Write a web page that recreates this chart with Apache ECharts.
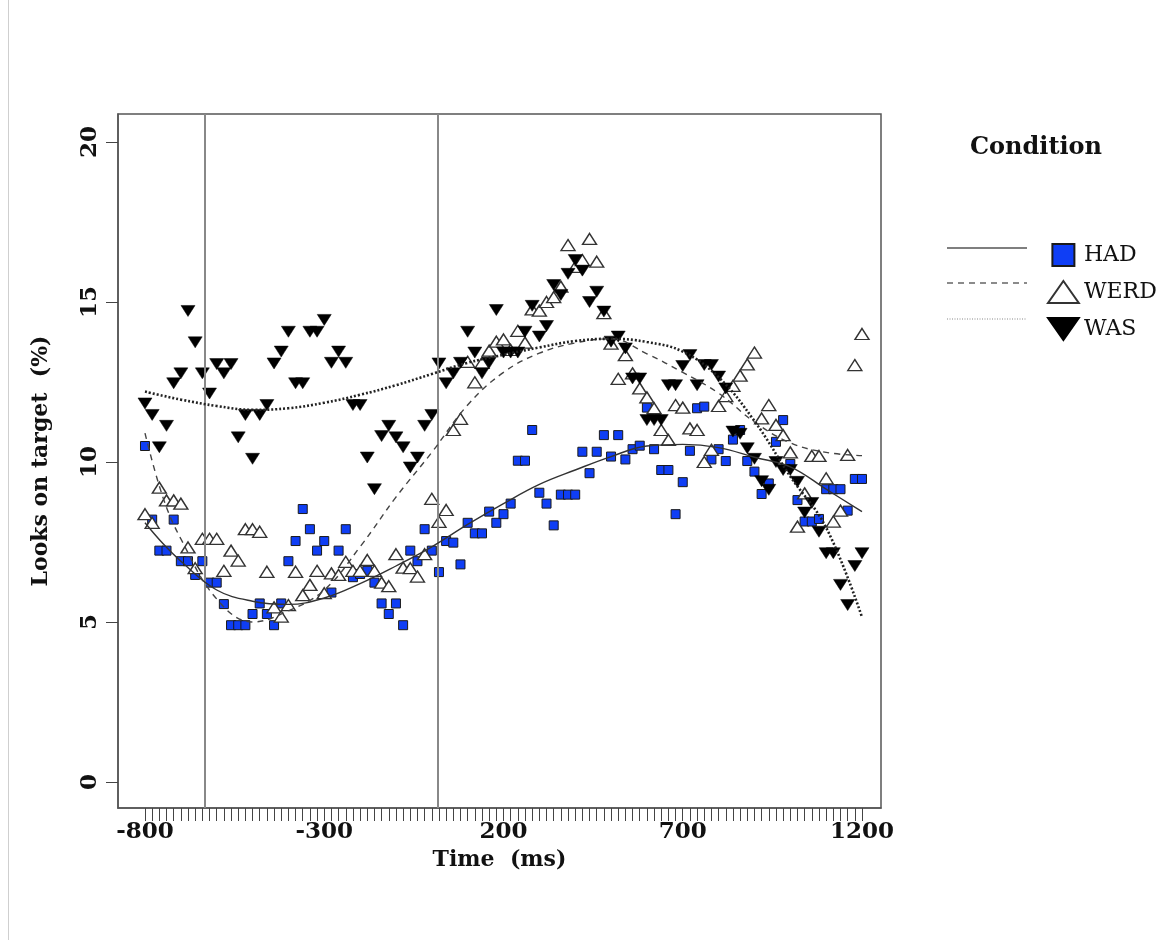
<!DOCTYPE html>
<html><head><meta charset="utf-8">
<script src="https://cdn.jsdelivr.net/npm/echarts@6/dist/echarts.min.js"></script>
<style>html,body{margin:0;padding:0;background:#fff}#chart{width:1176px;height:940px}</style>
</head><body><div id="chart"></div>
<script>
// time bins (ms), every 20 ms from -800 to 1200
const timeStart = -800;
const timeStep = 20;
const binCount = 101;

const hadValues = [10.5, 8.2, 7.23, 7.23, 8.2, 6.9, 6.9, 6.47, 6.9, 6.23,
 6.23, 5.56, 4.9, 4.9, 4.9, 5.25, 5.58, 5.25, 4.9, 5.58,
 6.9, 7.53, 8.53, 7.9, 7.23, 7.53, 5.92, 7.23, 7.9, 6.4,
 6.5, 6.6, 6.23, 5.58, 5.25, 5.58, 4.9, 7.23, 6.9, 7.9,
 7.23, 6.56, 7.53, 7.48, 6.8, 8.1, 7.77, 7.77, 8.45, 8.1,
 8.37, 8.7, 10.04, 10.04, 11.0, 9.04, 8.7, 8.02, 8.98, 8.98,
 8.98, 10.32, 9.65, 10.32, 10.84, 10.17, 10.84, 10.08, 10.4, 10.51,
 11.7, 10.4, 9.75, 9.75, 8.37, 9.37, 10.35, 11.68, 11.73, 10.08,
 10.4, 10.03, 10.7, 11.0, 10.03, 9.7, 9.0, 9.33, 10.63, 11.31,
 9.94, 8.81, 8.14, 8.14, 8.22, 9.15, 9.15, 9.15, 8.48, 9.47,
 9.47];

const werdValues = [8.37, 8.1, 9.2, 8.8, 8.8, 8.7, 7.33, 6.68, 7.6, 7.6,
 7.6, 6.6, 7.23, 6.92, 7.9, 7.9, 7.82, 6.57, 5.46, 5.17,
 5.53, 6.57, 5.84, 6.16, 6.6, 5.9, 6.52, 6.47, 6.88, 6.6,
 6.6, 6.94, 6.6, 6.23, 6.12, 7.12, 6.7, 6.68, 6.42, 7.12,
 8.85, 8.13, 8.5, 11.0, 11.35, 13.13, 12.49, 13.1, 13.48, 13.76,
 13.83, 13.5, 14.1, 13.73, 14.77, 14.73, 15.0, 15.15, 15.48, 16.78,
 16.1, 16.31, 16.97, 16.26, 14.65, 13.7, 12.6, 13.34, 12.77, 12.3,
 12.02, 11.68, 11.0, 10.69, 11.78, 11.7, 11.05, 11.0, 10.0, 10.38,
 11.75, 12.06, 12.38, 12.7, 13.05, 13.42, 11.36, 11.78, 11.16, 10.84,
 10.3, 7.98, 9.02, 10.19, 10.19, 9.49, 8.14, 8.48, 10.22, 13.03,
 14.0];

const wasValues = [11.83, 11.47, 10.46, 11.13, 12.46, 12.77, 14.72, 13.74, 12.77, 12.14,
 13.06, 12.77, 13.06, 10.77, 11.47, 10.1, 11.47, 11.78, 13.08, 13.45,
 14.07, 12.46, 12.46, 14.07, 14.07, 14.44, 13.1, 13.45, 13.1, 11.78,
 11.78, 10.14, 9.15, 10.81, 11.13, 10.77, 10.46, 9.83, 10.14, 11.13,
 11.47, 13.08, 12.46, 12.77, 13.1, 14.07, 13.42, 12.77, 13.1, 14.75,
 13.42, 13.42, 13.42, 14.07, 14.88, 13.92, 14.25, 15.53, 15.22, 15.88,
 16.31, 15.98, 15.0, 15.32, 14.7, 13.76, 13.92, 13.55, 12.61, 12.61,
 11.31, 11.31, 11.31, 12.4, 12.4, 13.0, 13.34, 12.4, 13.03, 13.03,
 12.67, 12.3, 10.95, 10.88, 10.43, 10.1, 9.4, 9.13, 10.0, 9.75,
 9.75, 9.38, 8.42, 8.72, 7.82, 7.15, 7.15, 6.16, 5.53, 6.75,
 7.15];

// fitted smooth curves
const fitTimes = [-800, -750, -700, -600, -500, -400, -300, -200, -100, 0, 100, 200, 300, 400, 500, 600, 700, 800, 900, 1000, 1100, 1200];
const hadFit  = [8.1, 7.45, 6.9, 6.0, 5.65, 5.55, 5.75, 6.2, 6.75, 7.35, 8.05, 8.7, 9.3, 9.75, 10.17, 10.5, 10.55, 10.45, 10.15, 9.85, 9.15, 8.45];
const werdFit = [10.9, 8.9, 7.6, 5.72, 5.0, 5.35, 6.0, 7.35, 8.9, 10.3, 11.78, 12.8, 13.4, 13.72, 13.85, 13.38, 12.8, 12.15, 11.25, 10.6, 10.3, 10.2];
const wasFit  = [12.2, 12.07, 11.95, 11.75, 11.63, 11.68, 11.85, 12.1, 12.4, 12.75, 13.1, 13.35, 13.58, 13.78, 13.85, 13.75, 13.45, 12.65, 11.28, 9.55, 7.95, 5.15];

const xTickLabels = [-800, -300, 200, 700, 1200];
const yTickLabels = [0, 5, 10, 15, 20];
const eventLines = [-634, 17];
const conditions = ['HAD', 'WERD', 'WAS'];

const times = [];
for (let i = 0; i < binCount; i++) times.push(timeStart + i * timeStep);
const pts = vals => vals.map((v, i) => [times[i], v]);
const fitPts = vals => vals.map((v, i) => [fitTimes[i], v]);

const SQUARE = 'path://M0,0H10V10H0Z';
const UP = 'path://M7,0L14,10L0,10Z';
const DOWN = 'path://M0,0L14,0L7,10Z';
const serif = 'DejaVu Serif';

const chart = echarts.init(document.getElementById('chart'), null, {renderer: 'canvas'});
chart.setOption({
  animation: false,
  backgroundColor: '#fff',
  grid: {left: 118, right: 295, top: 114, bottom: 132, show: true, borderColor: '#555', borderWidth: 1.5, backgroundColor: 'transparent', containLabel: false, outerBoundsMode: 'none'},
  xAxis: {
    type: 'value', min: -875.3, max: 1253,
    axisLine: {show: true, onZero: false, lineStyle: {color: '#555', width: 1.5}},
    splitLine: {show: false},
    axisTick: {show: true, customValues: times, length: 13, lineStyle: {color: '#444', width: 1}},
    axisLabel: {customValues: xTickLabels, formatter: v => String(v), fontFamily: serif, fontWeight: 'bold', fontSize: 23, color: '#111', margin: 13},
    name: 'Time  (ms)', nameLocation: 'middle', nameGap: 38,
    nameTextStyle: {fontFamily: serif, fontWeight: 'bold', fontSize: 22, color: '#111'}
  },
  yAxis: {
    type: 'value', min: -0.8125, max: 20.875,
    axisLine: {show: true, onZero: false, lineStyle: {color: '#555', width: 1.5}},
    splitLine: {show: false},
    axisTick: {show: true, customValues: yTickLabels, length: 12, lineStyle: {color: '#444', width: 1}},
    axisLabel: {customValues: yTickLabels, formatter: v => String(v), rotate: 90, fontFamily: serif, fontWeight: 'bold', fontSize: 23, color: '#111', margin: 16},
    name: 'Looks on target  (%)', nameLocation: 'middle', nameRotate: 90, nameGap: 66,
    nameTextStyle: {fontFamily: serif, fontWeight: 'bold', fontSize: 22, color: '#111'}
  },
  legend: {
    orient: 'vertical', left: 1042, top: 238, itemWidth: 31, itemHeight: 22, itemGap: 13,
    selectedMode: false,
    data: [{name: conditions[0], icon: SQUARE}, {name: conditions[1], icon: UP}, {name: conditions[2], icon: DOWN}],
    textStyle: {fontFamily: serif, fontSize: 22, color: '#111'}
  },
  graphic: [
    {type: 'line', shape: {x1: 8.5, y1: 0, x2: 8.5, y2: 940}, style: {stroke: '#cfcfcf', lineWidth: 1}},
    {type: 'text', x: 1036, y: 148, style: {text: 'Condition', fontFamily: serif, fontWeight: 'bold', fontSize: 24, fill: '#111', align: 'center', verticalAlign: 'middle'}},
    {type: 'line', shape: {x1: 947, y1: 248, x2: 1027, y2: 248}, style: {stroke: '#555', lineWidth: 1.5}},
    {type: 'line', shape: {x1: 947, y1: 283, x2: 1027, y2: 283}, style: {stroke: '#666', lineWidth: 1.5, lineDash: [6, 5]}},
    {type: 'line', shape: {x1: 947, y1: 319, x2: 1027, y2: 319}, style: {stroke: '#888', lineWidth: 1.2, lineDash: [1, 1.5]}}
  ],
  series: [
    {name: 'HAD', type: 'scatter', data: pts(hadValues), symbol: SQUARE, symbolSize: 9,
     itemStyle: {color: '#0f3ef5', borderColor: '#1a1a1a', borderWidth: 1, opacity: 1},
     markLine: {silent: true, symbol: ['none', 'none'], label: {show: false},
       lineStyle: {color: '#888', width: 2, type: 'solid'},
       data: eventLines.map(v => ({xAxis: v}))}},
    {name: 'WERD', type: 'scatter', data: pts(werdValues), symbol: UP, symbolSize: [14, 11],
     itemStyle: {color: '#fff', borderColor: '#333', borderWidth: 1.4, opacity: 1}},
    {name: 'WAS', type: 'scatter', data: pts(wasValues), symbol: DOWN, symbolSize: [14, 11],
     itemStyle: {color: '#000', borderColor: '#000', borderWidth: 0.5, opacity: 1}},
    {name: 'HAD fit', type: 'line', data: fitPts(hadFit), smooth: 0.4, showSymbol: false, z: 5,
     lineStyle: {color: '#333', width: 1.4, type: 'solid'}},
    {name: 'WERD fit', type: 'line', data: fitPts(werdFit), smooth: 0.4, showSymbol: false, z: 5,
     lineStyle: {color: '#444', width: 1.4, type: [6, 5]}},
    {name: 'WAS fit', type: 'line', data: fitPts(wasFit), smooth: 0.4, showSymbol: false, z: 5,
     lineStyle: {color: '#222', width: 2.6, type: [2, 2]}}
  ]
});
</script>
</body></html>
